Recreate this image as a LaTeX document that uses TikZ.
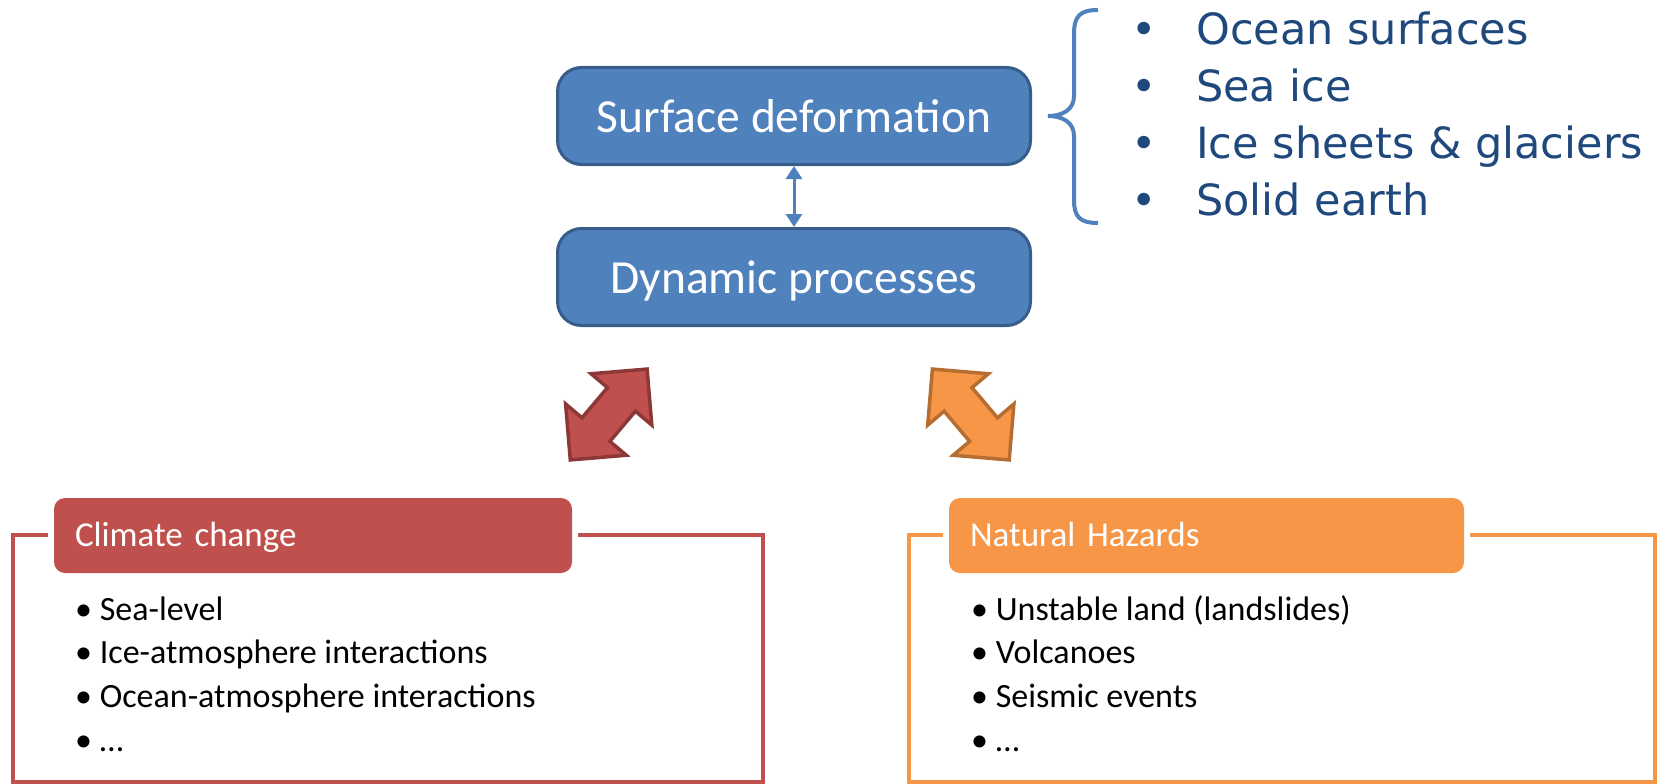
\documentclass[tikz,border=0pt]{standalone}
\usepackage{fontspec}
\setmainfont{Carlito}
\newfontfamily\listfont{DejaVu Sans}
\usetikzlibrary{shapes.arrows,arrows.meta,positioning}

\definecolor{boxblue}{HTML}{4F81BD}
\definecolor{boxblueline}{HTML}{385D8A}
\definecolor{listblue}{HTML}{1F497D}
\definecolor{climred}{HTML}{C0504D}
\definecolor{climredline}{HTML}{8C3836}
\definecolor{hazorange}{HTML}{F79646}
\definecolor{hazorangeline}{HTML}{B66D31}

\tikzset{
  procbox/.style={draw=boxblueline,fill=boxblue,line width=3pt,rounded corners=24pt,
    minimum width=473pt,minimum height=97pt,inner sep=0pt,text=white,
    font=\fontsize{47.5}{57}\selectfont,text height=33pt,text depth=0pt},
  frame/.style={draw=#1,line width=4pt,inner sep=0pt},
  headbox/.style={fill=#1,preaction={draw=white,line width=12pt},rounded corners=11pt,
    minimum height=75pt,inner xsep=21pt,inner ysep=0pt,align=left,text=white,
    font=\fontsize{35}{42}\selectfont,text height=25pt,text depth=4pt},
  item/.style={anchor=base west,inner sep=0pt,font=\fontsize{34}{41}\selectfont},
  featitem/.style={anchor=base west,inner sep=0pt,text=listblue,font=\listfont\fontsize{43}{52}\selectfont},
  blockarrow/.style={double arrow,draw=#1line,fill=#1,line width=3.5pt,
    minimum height=119pt,minimum width=76pt,inner xsep=0pt,inner ysep=16.5pt,
    double arrow head extend=21.5pt}
}

\begin{document}
\begin{tikzpicture}[x=1pt,y=-1pt]
\useasboundingbox (0,0) rectangle (1671,784);

%processes
\node[procbox] (surf) at (794,116) {Surface deformation};
\node[procbox,below=61pt of surf] (dyn) {Dynamic processes};
\draw[boxblue,line width=3pt,{Triangle[width=16pt,length=13pt]}-{Triangle[width=16pt,length=13pt]}] (surf) -- (dyn);

%what deforms
\draw[boxblue,line width=4pt] (1098,10) .. controls (1080,10) and (1074,16) .. (1074,34)
  -- (1074,96) .. controls (1074,110) and (1062,116) .. (1048,116)
  .. controls (1062,116) and (1074,122) .. (1074,136)
  -- (1074,200) .. controls (1074,217) and (1080,223) .. (1098,223);
\foreach \txt [count=\i] in {Ocean surfaces,Sea ice,Ice sheets \& glaciers,Solid earth}
  \node[featitem] (feat\i) at (1131,-11.7+56.7*\i) {\makebox[65pt][l]{•}\txt};

%links
\node[blockarrow=climred,rotate=49.8] (climlink) at (608.7,414.5) {};
\node[blockarrow=hazorange,rotate=130.2] (hazlink) at (970.8,414.5) {};

%climate change
\node[frame=climred,minimum width=750.5pt,minimum height=247pt] (climbox) at (387.75,658.5) {};
\node[headbox=climred,text width=476pt] (climhead) at (313,535.5) {Climate change};
\foreach \txt [count=\i] in {Sea-level,Ice-atmosphere interactions,Ocean-atmosphere interactions,…}
  \node[item] (clim\i) at (75,576.2+43.8*\i) {• \txt};

%natural hazards
\node[frame=hazorange,minimum width=745.5pt,minimum height=247pt] (hazbox) at (1281.75,658.5) {};
\node[headbox=hazorange,text width=473pt] (hazhead) at (1206.5,535.5) {Natural Hazards};
\foreach \txt [count=\i] in {{Unstable land (landslides)},Volcanoes,Seismic events,…}
  \node[item] (haz\i) at (971,576.2+43.8*\i) {• \txt};

\end{tikzpicture}
\end{document}
